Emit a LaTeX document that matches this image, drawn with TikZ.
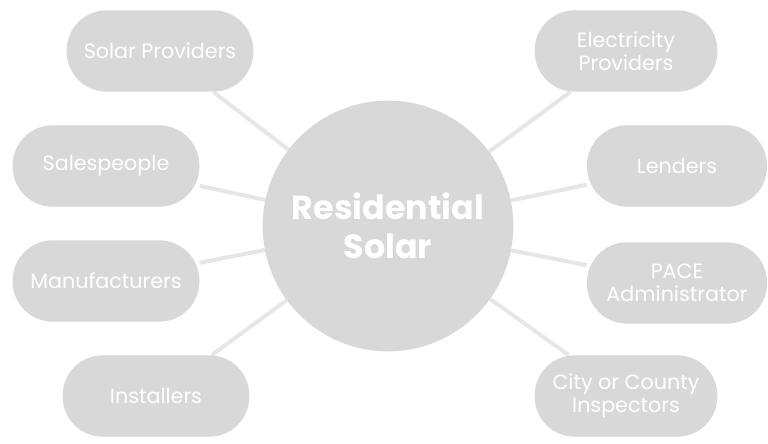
\documentclass[tikz,border=0pt]{standalone}
\usepackage{fontspec}
\setmainfont{Poppins}
\usetikzlibrary{backgrounds}

\definecolor{bubble}{RGB}{216,216,216}
\definecolor{spoke}{RGB}{230,230,230}

\tikzset{
  party/.style={draw=none, fill=bubble, rounded corners=30pt,
    minimum width=140pt, minimum height=61pt, align=center,
    text=white, font=\fontsize{15.5}{17}\selectfont},
  hub/.style={circle, draw=none, fill=bubble, minimum size=188pt,
    align=center, text=white, font=\bfseries\fontsize{25}{29}\selectfont},
  spokeline/.style={draw=spoke, line width=3pt}
}

\begin{document}
\begin{tikzpicture}[x=0.75pt, y=-0.75pt]
    \useasboundingbox (0,0) rectangle (768,443);

    % centre
    \node[hub] (solar) at (388,226) {Residential\\Solar};

    % left side
    \node[party] (providers) at (160,51) {Solar Providers};
    \node[party] (sales) at (106,166) {Salespeople};
    \node[party] (makers) at (106,281) {Manufacturers};
    \node[party] (install) at (156,396) {Installers};

    % right side
    \node[party, minimum width=137pt] (power) at (626,51) {Electricity\\Providers};
    \node[party, minimum width=135pt] (lenders) at (677,166) {Lenders};
    \node[party, minimum width=135pt] (pace) at (677,283) {PACE\\Administrator};
    \node[party, minimum width=137pt] (inspect) at (626,396) {City or County\\Inspectors};

    % spokes
    \begin{scope}[on background layer]
        \foreach \n in {providers, sales, makers, install, power, lenders, pace, inspect}
            \draw[spokeline] (\n) -- (solar);
    \end{scope}
\end{tikzpicture}
\end{document}
